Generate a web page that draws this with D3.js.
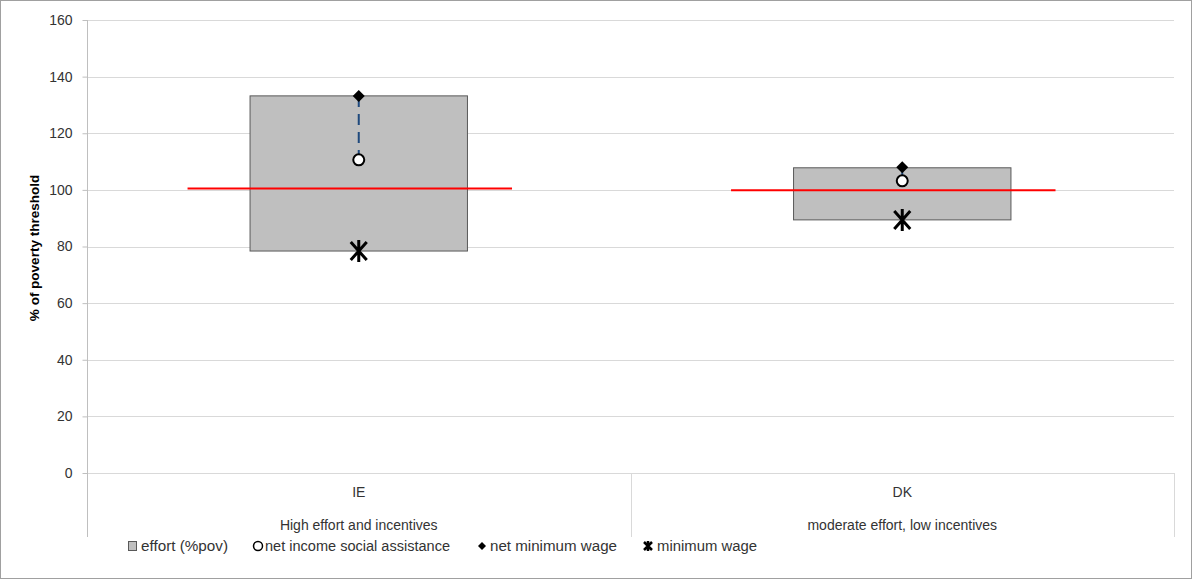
<!DOCTYPE html>
<html><head><meta charset="utf-8">
<script src="https://cdn.jsdelivr.net/npm/d3@7"></script>
<style>
body{margin:0;background:#fff;}
svg{display:block;font-family:"Liberation Sans",Arial,sans-serif;}
</style></head>
<body><svg id="c" width="1192" height="579"></svg>
<script>
const categories = ["IE", "DK"];
const groupLabels = ["High effort and incentives", "moderate effort, low incentives"];
const effortLow = [78.4, 89.4];
const effortHigh = [133.2, 107.8];
const netIncomeSA = [110.6, 103.2];
const netMinWage = [133.2, 108.0];
const minWage = [78.4, 89.4];
const povertyLine = [100.5, 99.9];
const yTicks = [0, 20, 40, 60, 80, 100, 120, 140, 160];
const legendLabels = ["effort (%pov)", "net income social assistance", "net minimum wage", "minimum wage"];

const svg = d3.select("#c");
const L = 87, R = 1174, T = 20, B = 473;
svg.append("rect").attr("x",0.5).attr("y",0.5).attr("width",1191).attr("height",578)
  .attr("fill","#fff").attr("stroke","#a0a0a0");

const y = d3.scaleLinear().domain([0,160]).range([B,T]);
const x = d3.scaleBand().domain(categories).range([L,R]).padding(0);
const bw = x.bandwidth();
const cx = d => x(d) + bw/2;

// gridlines
svg.append("g").selectAll("line").data(yTicks).join("line")
  .attr("x1",L).attr("x2",R).attr("y1",d=>Math.round(y(d))+0.5).attr("y2",d=>Math.round(y(d))+0.5)
  .attr("stroke","#d9d9d9").attr("stroke-width",1);

// y axis
const ya = svg.append("g").attr("transform",`translate(${L+0.5},0)`)
  .call(d3.axisLeft(y).tickValues(yTicks).tickSize(5).tickPadding(10));
ya.select(".domain").remove();
ya.append("line").attr("x1",0).attr("x2",0).attr("y1",T).attr("y2",537).attr("stroke","#bfbfbf");
ya.selectAll(".tick line").attr("stroke","#bfbfbf");
ya.selectAll(".tick text").attr("font-size",14).attr("fill","#333").attr("font-family","'Liberation Sans',Arial,sans-serif");

// category separators
svg.append("g").selectAll("line").data([x("DK"), R]).join("line")
  .attr("x1",d=>Math.round(d)+0.5).attr("x2",d=>Math.round(d)+0.5).attr("y1",B).attr("y2",537)
  .attr("stroke","#d9d9d9");

// category labels
svg.append("g").selectAll("text").data(categories).join("text")
  .attr("x",d=>cx(d)).attr("y",497).attr("text-anchor","middle")
  .attr("font-size",14).attr("fill","#333").text(d=>d);
svg.append("g").selectAll("text").data(groupLabels).join("text")
  .attr("x",(d,i)=>cx(categories[i])).attr("y",530).attr("text-anchor","middle")
  .attr("font-size",14).attr("fill","#333").text(d=>d);

// y axis title
svg.append("text").attr("transform","translate(39,248) rotate(-90)").attr("text-anchor","middle")
  .attr("font-size",13.5).attr("font-weight","bold").attr("fill","#000")
  .text("% of poverty threshold");

// boxes
const boxW = bw*0.4;
svg.append("g").selectAll("rect").data(categories).join("rect")
  .attr("x",(d)=>cx(d)-boxW/2).attr("width",boxW)
  .attr("y",(d,i)=>y(effortHigh[i])).attr("height",(d,i)=>y(effortLow[i])-y(effortHigh[i]))
  .attr("fill","#bfbfbf").attr("stroke","#595959").attr("stroke-width",1);

// red poverty line
svg.append("g").selectAll("line").data(categories).join("line")
  .attr("x1",d=>cx(d)-bw*0.315).attr("x2",d=>cx(d)+bw*0.282)
  .attr("y1",(d,i)=>y(povertyLine[i])).attr("y2",(d,i)=>y(povertyLine[i]))
  .attr("stroke","#ff0000").attr("stroke-width",2);

// dashed link
svg.append("g").selectAll("line").data(categories).join("line")
  .attr("x1",d=>cx(d)).attr("x2",d=>cx(d))
  .attr("y1",(d,i)=>y(netMinWage[i])).attr("y2",(d,i)=>y(netIncomeSA[i]))
  .attr("stroke","#1f497d").attr("stroke-width",2).attr("stroke-dasharray","11,7");

// diamonds
svg.append("g").selectAll("path").data(categories).join("path")
  .attr("transform",(d,i)=>`translate(${cx(d)},${y(netMinWage[i])})`)
  .attr("d","M0,-6L6,0L0,6L-6,0Z").attr("fill","#000");

// circles
svg.append("g").selectAll("circle").data(categories).join("circle")
  .attr("cx",d=>cx(d)).attr("cy",(d,i)=>y(netIncomeSA[i])).attr("r",5.5)
  .attr("fill","#fff").attr("stroke","#000").attr("stroke-width",2);

// stars
const starPath = "M-8,-9L8,9M-8,9L8,-9M0,-11L0,11";
svg.append("g").selectAll("path").data(categories).join("path")
  .attr("transform",(d,i)=>`translate(${cx(d)},${y(minWage[i])})`)
  .attr("d",starPath).attr("stroke","#000").attr("stroke-width",3).attr("fill","none");

// legend
const lg = svg.append("g").attr("font-size",14).attr("fill","#333");
const ly = 546;
const textX = [141, 265, 490, 657];
const textW = [87, 185, 127, 100];
lg.append("rect").attr("x",128.5).attr("y",ly-4.5).attr("width",8).attr("height",9)
  .attr("fill","#bfbfbf").attr("stroke","#595959");
lg.append("circle").attr("cx",258).attr("cy",ly).attr("r",4.5).attr("fill","#fff").attr("stroke","#000").attr("stroke-width",1.5);
lg.append("path").attr("transform",`translate(482,${ly})`).attr("d","M0,-4L4,0L0,4L-4,0Z").attr("fill","#000");
lg.append("path").attr("transform",`translate(648,${ly})`).attr("d","M-4,-4L4,4M-4,4L4,-4M0,-5L0,5").attr("stroke","#000").attr("stroke-width",2.5);
lg.selectAll("text").data(legendLabels).join("text")
  .attr("x",(d,i)=>textX[i]).attr("y",ly+5).attr("fill","#333")
  .attr("textLength",(d,i)=>textW[i]).attr("lengthAdjust","spacingAndGlyphs")
  .text(d=>d);
</script></body></html>
